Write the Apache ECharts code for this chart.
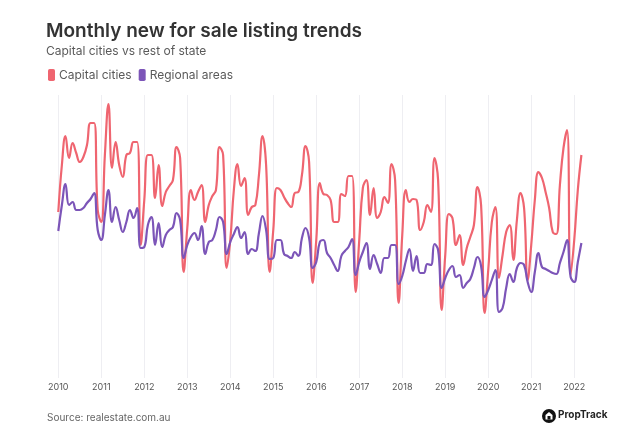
<!DOCTYPE html>
<html>
<head>
<meta charset="utf-8">
<script src="https://cdn.jsdelivr.net/npm/echarts@6/dist/echarts.min.js"></script>
<style>
html,body{margin:0;padding:0;background:#fff;}
#chart{width:633px;height:448px;}
</style>
</head>
<body>
<div id="chart"></div>
<script>
// Monthly, Jan 2010 – Mar 2022 (relative index; y axis unlabelled)
var years = ['2010','2011','2012','2013','2014','2015','2016','2017','2018','2019','2020','2021','2022'];
var capital = [
  188,235,264,242,257,247,238,243,255,277,277,190,
  178,245,296,232,258,235,223,245,247,258,258,155,
  200,245,245,202,235,194,208,214,220,253,242,128,
  172,210,200,208,215,178,195,204,210,253,245,132,
  160,210,236,214,222,185,193,195,225,264,235,128,
  170,212,210,203,197,193,207,208,225,254,238,117,
  160,217,206,205,200,178,178,206,204,224,224,108,
  160,212,220,185,212,182,188,203,197,236,220,97,
  165,210,198,201,200,170,178,195,188,242,220,90,
  145,186,182,155,165,135,152,163,175,213,195,87,
  130,178,193,122,145,168,175,140,180,207,192,120,
  155,200,228,222,208,192,168,166,215,252,270,125,
  160,210,245
];
var regional = [
  169,195,216,195,198,190,190,192,197,201,207,170,
  160,185,210,178,193,180,168,178,190,182,192,152,
  153,175,183,155,177,153,165,170,173,187,180,142,
  155,163,167,160,174,146,158,160,170,183,178,146,
  158,166,173,162,168,146,151,149,167,184,170,141,
  142,160,160,146,144,142,148,144,162,172,162,132,
  138,158,160,147,142,135,129,144,149,153,161,125,
  138,148,157,131,145,136,127,142,142,155,155,116,
  124,139,151,129,144,127,127,136,135,156,150,112,
  122,130,134,123,125,112,117,121,132,143,134,103,
  110,120,130,88,92,112,126,118,132,137,135,118,
  108,128,147,133,131,129,127,126,137,148,160,123,
  118,138,157
];
var months = [];
for (var i = 0; i < capital.length; i++) {
  months.push(years[Math.floor(i / 12)] + '-' + String(i % 12 + 1).padStart(2, '0'));
}
var yearStart = function (idx) { return idx % 12 === 0; };

var chart = echarts.init(document.getElementById('chart'), null, {renderer: 'canvas'});
var font = 'Inter, "Open Sans", sans-serif';
chart.setOption({
  backgroundColor: '#ffffff',
  animation: false,
  title: {
    text: 'Monthly new for sale listing trends',
    subtext: 'Capital cities vs rest of state',
    left: 41, top: 17,
    itemGap: 4,
    textStyle: {fontFamily: font, fontSize: 19, fontWeight: 600, color: '#333333'},
    subtextStyle: {fontFamily: font, fontSize: 12, color: '#5a5a5a'}
  },
  legend: {
    left: 43, top: 64,
    icon: 'roundRect',
    itemWidth: 7, itemHeight: 12, itemGap: 7,
    textStyle: {fontFamily: font, fontSize: 12, color: '#5a5a5a', padding: [0, 0, 0, -1]},
    data: ['Capital cities', 'Regional areas']
  },
  grid: {left: 58.3, right: 51.6, top: 95, bottom: 70, containLabel: false},
  xAxis: {
    type: 'category',
    data: months,
    boundaryGap: false,
    axisLine: {show: false},
    axisTick: {show: false},
    splitLine: {show: true, interval: yearStart, lineStyle: {color: '#eeeef2', width: 1}},
    axisLabel: {
      interval: yearStart,
      formatter: function (v) { return v.slice(0, 4); },
      fontFamily: font, fontSize: 9, color: '#555555', margin: 5
    }
  },
  yAxis: {type: 'value', min: 22, max: 305, show: false, splitLine: {show: false}},
  series: [
    {name: 'Capital cities', type: 'line', data: capital, smooth: 0.45, showSymbol: false,
     lineStyle: {color: '#ef6570', width: 2.2}, itemStyle: {color: '#ef6570'}},
    {name: 'Regional areas', type: 'line', data: regional, smooth: 0.45, showSymbol: false,
     lineStyle: {color: '#7c55b8', width: 2.2}, itemStyle: {color: '#7c55b8'}}
  ],
  graphic: [
    {type: 'text', left: 47, top: 413, style: {text: 'Source: realestate.com.au', fontFamily: font, fontSize: 10, fill: '#666666'}},
    {type: 'circle', shape: {cx: 549, cy: 416, r: 7}, style: {fill: '#111111'}},
    {type: 'polygon', shape: {points: [[545.5,419.5],[545.5,415],[549,412],[552.5,415],[552.5,419.5]]}, style: {fill: '#ffffff'}},
    {type: 'rect', shape: {x: 547.5, y: 416, width: 3, height: 3.5}, style: {fill: '#111111'}},
    {type: 'text', left: 558, top: 410, style: {text: 'PropTrack', fontFamily: font, fontSize: 10, fontWeight: 700, fill: '#222222'}}
  ]
});
</script>
</body>
</html>
